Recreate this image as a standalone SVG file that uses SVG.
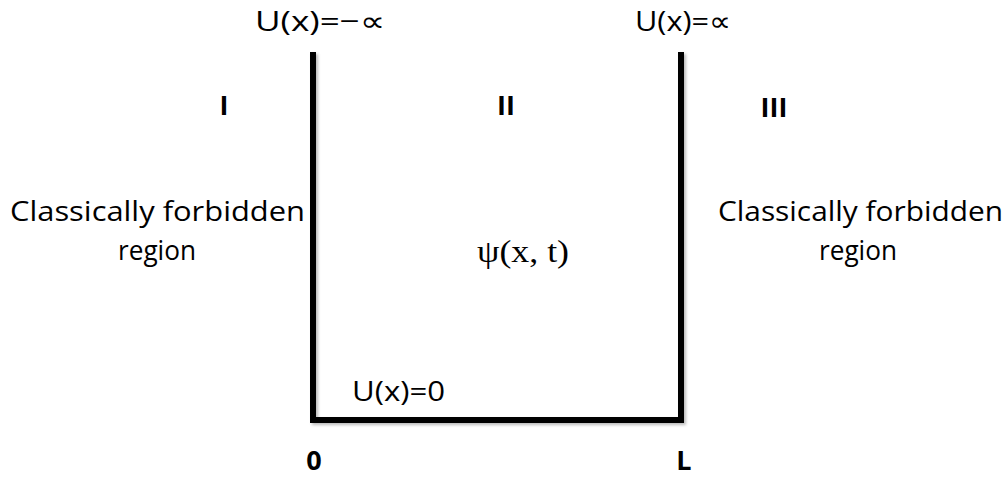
<svg xmlns="http://www.w3.org/2000/svg" width="1008" height="478" viewBox="0 0 1008 478">
<style>
.t{font-family:"Open Sans","Liberation Sans",sans-serif;font-size:28px;fill:#000}
.b{font-family:"Open Sans","Liberation Sans",sans-serif;font-size:27px;font-weight:bold;fill:#000}
.m{font-family:"Liberation Serif","DejaVu Serif",serif;font-size:32px;fill:#000}
.well{fill:none;stroke:#000;stroke-width:6;stroke-linejoin:miter}
</style>
<defs>
<filter id="sh" x="-5%" y="-5%" width="110%" height="110%">
<feGaussianBlur stdDeviation="1.5"/>
</filter>
</defs>
<rect width="1008" height="478" fill="#fff"/>
<g id="connectors">
<path d="M315,54 V422 H683 V54" fill="none" stroke="#bbb" stroke-width="6" filter="url(#sh)"/>
<path class="well" d="M313,52 V420 H681 V52"/>
</g>
<g id="label-left-top"><text class="t" x="255" y="31" textLength="130" lengthAdjust="spacingAndGlyphs">U(x)=−∝</text></g>
<g id="label-right-top"><text class="t" x="635" y="31" textLength="96" lengthAdjust="spacingAndGlyphs">U(x)=∝</text></g>
<g id="region-I"><text class="b" x="224" y="115" text-anchor="middle">I</text></g>
<g id="region-II"><text class="b" x="506" y="115" text-anchor="middle">II</text></g>
<g id="region-III"><text class="b" x="774" y="117" text-anchor="middle">III</text></g>
<g id="left-region">
<text class="t" x="10" y="221" textLength="295" lengthAdjust="spacingAndGlyphs">Classically forbidden</text>
<text class="t" x="118" y="260" textLength="78" lengthAdjust="spacingAndGlyphs">region</text>
</g>
<g id="right-region">
<text class="t" x="718" y="221" textLength="285" lengthAdjust="spacingAndGlyphs">Classically forbidden</text>
<text class="t" x="819" y="260" textLength="78" lengthAdjust="spacingAndGlyphs">region</text>
</g>
<g id="psi"><text class="m" x="477" y="262" textLength="92" lengthAdjust="spacingAndGlyphs">ψ(x, t)</text></g>
<g id="label-bottom"><text class="t" x="352" y="401" textLength="93" lengthAdjust="spacingAndGlyphs">U(x)=0</text></g>
<g id="label-0"><text class="b" x="314" y="470" text-anchor="middle">0</text></g>
<g id="label-L"><text class="b" x="684" y="470" text-anchor="middle">L</text></g>
</svg>
